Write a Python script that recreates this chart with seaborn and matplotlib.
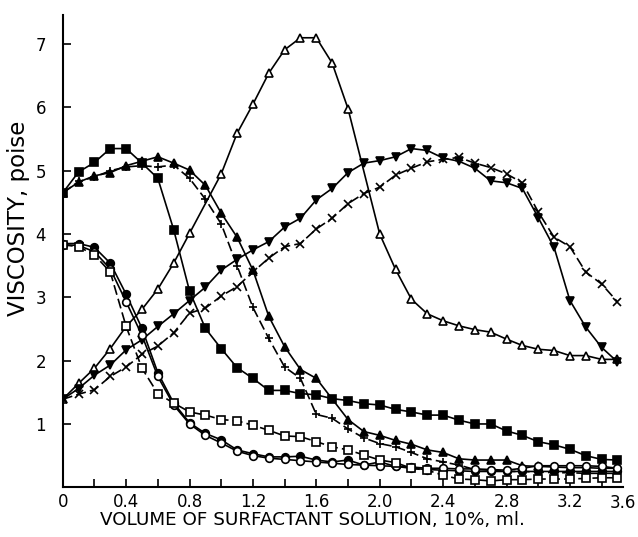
import numpy as np
import matplotlib
matplotlib.use("Agg")
import matplotlib.pyplot as plt
import seaborn as sns

# ---------------- data ----------------
# open triangles, solid line
x_open_tri = [0.0, 0.1, 0.2, 0.3, 0.4, 0.5, 0.6, 0.7, 0.8, 1.0, 1.1, 1.2, 1.3, 1.4, 1.5, 1.6, 1.7, 1.8,
              2.0, 2.1, 2.2, 2.3, 2.4, 2.5, 2.6, 2.7, 2.8, 2.9, 3.0, 3.1, 3.2, 3.3, 3.4, 3.5]
y_open_tri = [1.39, 1.64, 1.88, 2.19, 2.54, 2.81, 3.13, 3.54, 4.01, 4.95, 5.59, 6.05, 6.54, 6.91, 7.10, 7.10, 6.70, 5.98,
              4.00, 3.44, 2.97, 2.74, 2.63, 2.55, 2.49, 2.45, 2.34, 2.24, 2.18, 2.16, 2.08, 2.08, 2.02, 2.02]

# filled inverted triangles, solid line
x_inv_tri = [0.0, 0.1, 0.2, 0.3, 0.4, 0.5, 0.6, 0.7, 0.8, 0.9, 1.0, 1.1, 1.2, 1.3, 1.4, 1.5, 1.6, 1.7, 1.8, 1.9,
             2.0, 2.1, 2.2, 2.3, 2.4, 2.5, 2.6, 2.7, 2.8, 2.9, 3.0, 3.1, 3.2, 3.3, 3.4, 3.5]
y_inv_tri = [1.39, 1.56, 1.77, 1.93, 2.17, 2.33, 2.54, 2.74, 2.95, 3.16, 3.43, 3.60, 3.75, 3.88, 4.11, 4.25, 4.54, 4.72,
             4.97, 5.12, 5.16, 5.22, 5.35, 5.32, 5.20, 5.15, 5.04, 4.84, 4.81, 4.72, 4.26, 3.79, 2.95, 2.53, 2.21, 1.98]

# crosses (x), dashed line
x_cross = [0.0, 0.1, 0.2, 0.3, 0.4, 0.5, 0.6, 0.7, 0.8, 0.9, 1.0, 1.1, 1.2, 1.3, 1.4, 1.5, 1.6, 1.7, 1.8, 1.9,
           2.0, 2.1, 2.2, 2.3, 2.4, 2.5, 2.6, 2.7, 2.8, 2.9, 3.0, 3.1, 3.2, 3.3, 3.4, 3.5]
y_cross = [1.39, 1.47, 1.54, 1.75, 1.90, 2.10, 2.23, 2.44, 2.75, 2.83, 3.02, 3.17, 3.40, 3.62, 3.80, 3.85, 4.08, 4.25,
           4.48, 4.64, 4.74, 4.93, 5.04, 5.14, 5.18, 5.21, 5.12, 5.05, 4.95, 4.81, 4.35, 3.95, 3.80, 3.40, 3.21, 2.93]

# filled squares, solid line
x_fill_sq = [0.0, 0.1, 0.2, 0.3, 0.4, 0.5, 0.6, 0.7, 0.8, 0.9, 1.0, 1.1, 1.2, 1.3, 1.4, 1.5, 1.6, 1.7, 1.8, 1.9,
             2.0, 2.1, 2.2, 2.3, 2.4, 2.5, 2.6, 2.7, 2.8, 2.9, 3.0, 3.1, 3.2, 3.3, 3.4, 3.5]
y_fill_sq = [4.65, 4.98, 5.13, 5.35, 5.35, 5.12, 4.88, 4.07, 3.10, 2.51, 2.19, 1.89, 1.72, 1.53, 1.53, 1.48, 1.46, 1.40,
             1.37, 1.32, 1.30, 1.23, 1.19, 1.14, 1.14, 1.06, 1.00, 1.00, 0.89, 0.82, 0.72, 0.67, 0.60, 0.50, 0.44, 0.43]

# filled triangles, solid line
x_fill_tri = [0.0, 0.1, 0.2, 0.3, 0.4, 0.5, 0.6, 0.7, 0.8, 0.9, 1.0, 1.1, 1.2, 1.3, 1.4, 1.5, 1.6, 1.8, 1.9,
              2.0, 2.1, 2.2, 2.3, 2.4, 2.5, 2.6, 2.7, 2.8, 2.9, 3.0, 3.1, 3.2, 3.3, 3.4, 3.5]
y_fill_tri = [4.65, 4.82, 4.92, 4.97, 5.08, 5.15, 5.22, 5.12, 5.01, 4.77, 4.33, 3.95, 3.43, 2.70, 2.22, 1.86, 1.72, 1.07,
              0.88, 0.82, 0.74, 0.68, 0.59, 0.55, 0.45, 0.43, 0.43, 0.43, 0.34, 0.33, 0.32, 0.31, 0.31, 0.30, 0.30]

# plus signs, dashed line
x_plus = [0.0, 0.1, 0.2, 0.3, 0.4, 0.5, 0.6, 0.7, 0.8, 0.9, 1.0, 1.1, 1.2, 1.3, 1.4, 1.5, 1.6, 1.7, 1.8, 1.9,
          2.0, 2.1, 2.2, 2.3, 2.4, 2.5, 2.6, 2.7, 2.8, 2.9, 3.0, 3.1, 3.2, 3.3, 3.4, 3.5]
y_plus = [4.65, 4.83, 4.90, 5.00, 5.06, 5.08, 5.06, 5.09, 4.88, 4.55, 4.16, 3.50, 2.84, 2.35, 1.90, 1.72, 1.15, 1.09,
          0.92, 0.78, 0.69, 0.64, 0.55, 0.45, 0.40, 0.35, 0.28, 0.27, 0.25, 0.25, 0.24, 0.23, 0.23, 0.22, 0.22, 0.22]

# filled circles, solid line
x_fill_circ = [0.0, 0.1, 0.2, 0.3, 0.4, 0.5, 0.6, 0.7, 0.8, 0.9, 1.0, 1.1, 1.2, 1.3, 1.4, 1.5, 1.6, 1.7, 1.8, 1.9,
               2.0, 2.1, 2.2, 2.3, 2.4, 2.5, 2.6, 2.7, 2.8, 2.9, 3.0, 3.1, 3.2, 3.3, 3.4, 3.5]
y_fill_circ = [3.85, 3.85, 3.79, 3.54, 3.05, 2.51, 1.81, 1.33, 1.02, 0.85, 0.75, 0.59, 0.53, 0.48, 0.48, 0.49, 0.43, 0.40,
               0.43, 0.35, 0.40, 0.33, 0.30, 0.28, 0.27, 0.26, 0.25, 0.25, 0.25, 0.25, 0.25, 0.25, 0.25, 0.25, 0.25, 0.25]

# open circles, solid line
x_open_circ = [0.0, 0.1, 0.2, 0.3, 0.4, 0.5, 0.6, 0.7, 0.8, 0.9, 1.0, 1.1, 1.2, 1.3, 1.4, 1.5, 1.6, 1.7, 1.8, 1.9,
               2.0, 2.1, 2.2, 2.3, 2.4, 2.5, 2.6, 2.7, 2.8, 2.9, 3.0, 3.1, 3.2, 3.3, 3.4, 3.5]
y_open_circ = [3.83, 3.82, 3.72, 3.45, 2.93, 2.40, 1.75, 1.30, 1.00, 0.82, 0.70, 0.57, 0.50, 0.46, 0.44, 0.42, 0.40, 0.38,
               0.36, 0.35, 0.34, 0.33, 0.32, 0.30, 0.30, 0.29, 0.29, 0.28, 0.27, 0.30, 0.34, 0.34, 0.34, 0.34, 0.33, 0.30]

# open squares, dashed line
x_open_sq = [0.0, 0.1, 0.2, 0.3, 0.4, 0.5, 0.6, 0.7, 0.8, 0.9, 1.0, 1.1, 1.2, 1.3, 1.4, 1.5, 1.6, 1.7, 1.8, 1.9,
             2.0, 2.1, 2.2, 2.3, 2.4, 2.5, 2.6, 2.7, 2.8, 2.9, 3.0, 3.1, 3.2, 3.3, 3.4, 3.5]
y_open_sq = [3.83, 3.80, 3.67, 3.40, 2.54, 1.88, 1.48, 1.33, 1.19, 1.14, 1.07, 1.05, 0.98, 0.90, 0.81, 0.80, 0.72, 0.64,
             0.59, 0.51, 0.43, 0.39, 0.30, 0.27, 0.19, 0.13, 0.12, 0.10, 0.12, 0.12, 0.13, 0.13, 0.13, 0.14, 0.15, 0.15]

x_ticks = [0.0, 0.2, 0.4, 0.6, 0.8, 1.0, 1.2, 1.4, 1.6, 1.8, 2.0, 2.2, 2.4, 2.6, 2.8, 3.0, 3.2, 3.4]
x_tick_labels = ["0", "", "0.4", "", "0.8", "", "1.2", "", "1.6", "", "2.0", "", "2.4", "", "2.8", "", "3.2", ""]
x_end_label = "3.6"
y_ticks = [1, 2, 3, 4, 5, 6, 7]
y_tick_labels = ["1", "2", "3", "4", "5", "6", "7"]
x_title = "VOLUME OF SURFACTANT SOLUTION, 10%, ml."
y_title = "VISCOSITY, poise"

# ---------------- plotting ----------------
sns.set_theme(style="ticks")
plt.rcParams["font.family"] = ["DejaVu Sans"]

fig = plt.figure(figsize=(6.38, 5.37), dpi=100)
ax = fig.add_axes([0.0983, 0.0926, 0.8782, 0.8795])

series = [
    (x_open_tri, y_open_tri, "^", "white", "-"),
    (x_inv_tri, y_inv_tri, "v", "black", "-"),
    (x_cross, y_cross, "x", "black", (0, (6, 2.5))),
    (x_fill_sq, y_fill_sq, "s", "black", "-"),
    (x_fill_tri, y_fill_tri, "^", "black", "-"),
    (x_plus, y_plus, "+", "black", (0, (6, 2.5))),
    (x_fill_circ, y_fill_circ, "o", "black", "-"),
    (x_open_circ, y_open_circ, "o", "white", "-"),
    (x_open_sq, y_open_sq, "s", "white", (0, (6, 2.5))),
]

for xs, ys, mk, fc, ls in series:
    sns.lineplot(x=xs, y=ys, ax=ax, color="black", linewidth=1.2, linestyle=ls,
                 marker=mk, markersize=5.5, markerfacecolor=fc, markeredgecolor="black",
                 markeredgewidth=1.2, estimator=None, sort=False, legend=False)

ax.set_xlim(0, 3.535)
ax.set_ylim(0, 7.46)
ax.set_xticks(x_ticks)
ax.set_xticklabels(x_tick_labels)
ax.set_yticks(y_ticks)
ax.set_yticklabels(y_tick_labels)

for side in ["top", "right"]:
    ax.spines[side].set_visible(False)
for side in ["left", "bottom"]:
    ax.spines[side].set_linewidth(1.5)
    ax.spines[side].set_color("black")

ax.tick_params(axis="both", direction="in", length=6, width=1.2, colors="black", labelsize=12)
ax.tick_params(axis="x", pad=4)
ax.tick_params(axis="y", pad=12)

ax.annotate(x_end_label, xy=(3.535, 0), xycoords=("data", "axes fraction"),
            xytext=(0, -4.5), textcoords="offset points", ha="center", va="top",
            fontsize=12, color="black")

ax.set_xlabel(x_title, fontsize=13.2, color="black")
ax.xaxis.set_label_coords(0.445, -0.05)
ax.set_ylabel(y_title, fontsize=16.5, color="black")
ax.yaxis.set_label_coords(-0.058, 0.57)

fig.savefig("out.png", dpi=100)
